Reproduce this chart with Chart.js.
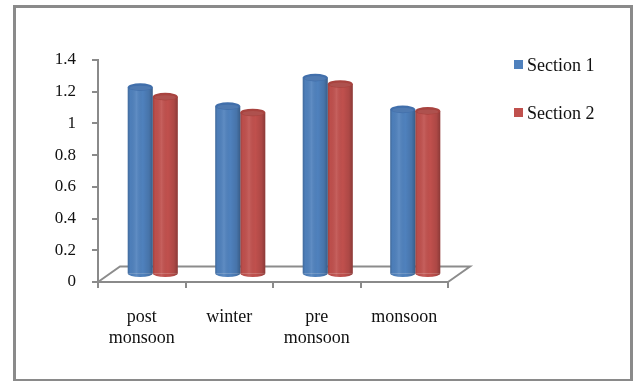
<!DOCTYPE html>
<html>
<head>
<meta charset="utf-8">
<script src="https://cdn.jsdelivr.net/npm/chart.js@4.4.1/dist/chart.umd.min.js"></script>
<style>
  html, body { margin: 0; padding: 0; background: #fff; }
  #wrap { position: relative; width: 637px; height: 381px; overflow: hidden; }
  #frame {
    position: absolute; left: 13px; top: 5px; width: 620px; height: 376px;
    box-sizing: border-box; border: 3px solid #8a8a8a; border-bottom-width: 2px;
    pointer-events: none;
  }
  canvas { position: absolute; left: 0; top: 0; }
  .leg { position: absolute; font-family: "Liberation Serif", "Times New Roman", serif;
         font-size: 18px; color: #111; white-space: nowrap; line-height: 18px; }
  .leg i { position: absolute; left: -13px; top: 4px; width: 9px; height: 9px; }
</style>
</head>
<body>
<div id="wrap">
  <canvas id="c" width="637" height="381"></canvas>
  <div id="frame"></div>
</div>
<script>
// Seasons on the x axis (multi-line labels)
const categories = [["post", "monsoon"], "winter", ["pre", "monsoon"], "monsoon"];
const seriesNames = ["Section 1", "Section 2"];
const section1 = [1.18, 1.06, 1.24, 1.04];
const section2 = [1.12, 1.02, 1.20, 1.03];
const seriesColors = ["#4f81bd", "#c0504d"];
const capColors = ["#416fab", "#a8433f"];
const yTicks = { min: 0, max: 1.4, step: 0.2 };

// Depth of the 3-D floor (px): bars sit halfway back
const DEPTH_X = 22, DEPTH_Y = 15.5;
const CAP_RY = 3.8;

const cylinderPlugin = {
  id: 'cylinders',
  beforeDatasetsDraw(chart) {
    const { ctx, chartArea: a } = chart;
    // floor outline
    ctx.save();
    ctx.strokeStyle = '#8c8c8c';
    ctx.lineWidth = 2;
    ctx.beginPath();
    ctx.moveTo(a.left, a.bottom);
    ctx.lineTo(a.left + DEPTH_X, a.bottom - DEPTH_Y);
    ctx.lineTo(a.right + DEPTH_X, a.bottom - DEPTH_Y);
    ctx.lineTo(a.right, a.bottom);
    ctx.stroke();
    ctx.restore();
    // push bars to mid depth
    ctx.save();
    ctx.translate(DEPTH_X / 2, -DEPTH_Y / 2);
  },
  afterDatasetsDraw(chart) {
    const ctx = chart.ctx;
    chart.data.datasets.forEach((ds, di) => {
      const meta = chart.getDatasetMeta(di);
      meta.data.forEach(el => {
        const { x, y, base, width } = el.getProps(['x', 'y', 'base', 'width'], true);
        const l = x - width / 2, r = x + width / 2, rx = width / 2;
        // bottom rounded edge
        ctx.fillStyle = seriesColors[di];
        ctx.beginPath();
        ctx.ellipse(x, base, rx, CAP_RY, 0, 0, Math.PI);
        ctx.fill();
        // shading across the cylinder
        const g = ctx.createLinearGradient(l, 0, r, 0);
        g.addColorStop(0, 'rgba(0,0,0,0.18)');
        g.addColorStop(0.1, 'rgba(0,0,0,0.02)');
        g.addColorStop(0.35, 'rgba(255,255,255,0.09)');
        g.addColorStop(0.6, 'rgba(0,0,0,0)');
        g.addColorStop(0.85, 'rgba(0,0,0,0.10)');
        g.addColorStop(1, 'rgba(0,0,0,0.28)');
        ctx.fillStyle = g;
        ctx.beginPath();
        ctx.moveTo(l, y);
        ctx.lineTo(l, base);
        ctx.ellipse(x, base, rx, CAP_RY, 0, Math.PI, 0, true);
        ctx.lineTo(r, y);
        ctx.closePath();
        ctx.fill();
        // top cap
        ctx.fillStyle = capColors[di];
        ctx.beginPath();
        ctx.ellipse(x, y, rx, CAP_RY, 0, 0, Math.PI * 2);
        ctx.fill();
        ctx.fillStyle = 'rgba(255,255,255,0.08)';
        ctx.beginPath();
        ctx.ellipse(x, y + 0.8, rx - 2, CAP_RY - 1.5, 0, 0, Math.PI * 2);
        ctx.fill();
      });
    });
    ctx.restore();
  }
};

const AXIS_GRAY = '#8a8a8a';

new Chart(document.getElementById('c'), {
  type: 'bar',
  data: {
    labels: categories,
    datasets: [
      { label: seriesNames[0], data: section1, backgroundColor: seriesColors[0] },
      { label: seriesNames[1], data: section2, backgroundColor: seriesColors[1] }
    ]
  },
  options: {
    responsive: false,
    animation: false,
    devicePixelRatio: 1,
    layout: { padding: { left: 0, right: 189, top: 60, bottom: 0 } },
    datasets: { bar: { categoryPercentage: 0.572, barPercentage: 1.0, borderWidth: 0 } },
    plugins: { legend: { display: false }, tooltip: { enabled: false } },
    scales: {
      x: {
        grid: { display: true, drawOnChartArea: false, drawTicks: true, tickLength: 6,
                color: AXIS_GRAY, lineWidth: 2, offset: true },
        border: { display: true, color: AXIS_GRAY, width: 2 },
        ticks: { color: '#111', padding: 18, maxRotation: 0,
                 font: { family: '"Liberation Serif", "Times New Roman", serif', size: 18, lineHeight: 1.2 } },
        afterFit(s) { s.height = 99; }
      },
      y: {
        min: yTicks.min, max: yTicks.max,
        grid: { display: true, drawOnChartArea: false, drawTicks: true, tickLength: 6,
                color: AXIS_GRAY, lineWidth: 2 },
        border: { display: true, color: AXIS_GRAY, width: 2 },
        ticks: { stepSize: yTicks.step, color: '#111', padding: 16,
                 callback: v => String(Number(v.toFixed(1))),
                 font: { family: '"Liberation Serif", "Times New Roman", serif', size: 17 } },
        afterFit(s) { s.width = 98; }
      }
    }
  },
  plugins: [cylinderPlugin]
});

// legend to the right of the plot
const wrap = document.getElementById('wrap');
const legendTops = [56, 104];
seriesNames.forEach((name, i) => {
  const d = document.createElement('div');
  d.className = 'leg';
  d.style.left = '527px';
  d.style.top = legendTops[i] + 'px';
  const sw = document.createElement('i');
  sw.style.background = seriesColors[i];
  d.appendChild(sw);
  d.appendChild(document.createTextNode(name));
  wrap.appendChild(d);
});
</script>
</body>
</html>
